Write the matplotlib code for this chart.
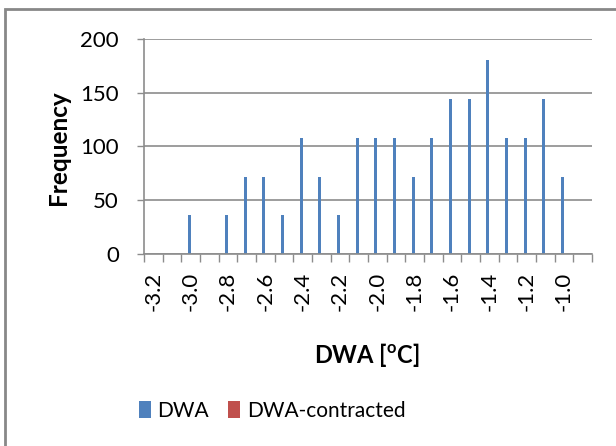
import matplotlib
matplotlib.use("Agg")
import matplotlib.pyplot as plt
from matplotlib.patches import Rectangle
import numpy as np

plt.rcParams['font.family'] = ['Lato', 'DejaVu Sans']
plt.rcParams['mathtext.fontset'] = 'custom'
plt.rcParams['mathtext.bf'] = 'Lato:bold'
plt.rcParams['mathtext.rm'] = 'Lato'

# histogram bins (deg C) and counts
bins = [-3.2, -3.1, -3.0, -2.9, -2.8, -2.7, -2.6, -2.5, -2.4, -2.3, -2.2, -2.1,
        -2.0, -1.9, -1.8, -1.7, -1.6, -1.5, -1.4, -1.3, -1.2, -1.1, -1.0, -0.9]
dwa = [0, 0, 36, 0, 36, 72, 72, 36, 108, 72, 36, 108,
       108, 108, 72, 108, 144, 144, 180, 108, 108, 144, 72, 0]
dwa_contracted = [0] * len(bins)

blue = '#4F81BD'
red = '#C0504D'
grid_c = '#8C8C8C'

fig = plt.figure(figsize=(6.16, 4.46), dpi=100)
ax = fig.add_axes([144/616, 1 - 254/446, 448/616, 215/446])

x = np.arange(len(bins))
w = 0.16
ax.bar(x - w/2, dwa, width=w, color=blue, label='DWA', linewidth=0)
ax.bar(x + w/2, dwa_contracted, width=w, color=red, label='DWA-contracted', linewidth=0)

ax.set_xlim(-0.5, len(bins) - 0.5)
ax.set_ylim(0, 200)
ax.set_yticks([0, 50, 100, 150, 200])
ax.yaxis.grid(True, color=grid_c, linewidth=1.2)
ax.set_axisbelow(True)
ax.tick_params(axis='y', length=5, width=1, color=grid_c, pad=13, labelsize=16)

# label every other bin, tick marks on bin edges
lab_pos = x[::2]
ax.set_xticks(lab_pos)
ax.set_xticklabels(['%.1f' % bins[i] for i in lab_pos], rotation=90, va='top')
ax.set_xticks(np.arange(-0.5, len(bins)), minor=True)
ax.tick_params(axis='x', which='major', length=0, pad=13, labelsize=16)
ax.tick_params(axis='x', which='minor', length=6, width=1, color=grid_c)

for s in ['top', 'right']:
    ax.spines[s].set_visible(False)
for s in ['left', 'bottom']:
    ax.spines[s].set_color(grid_c)
    ax.spines[s].set_linewidth(1.2)

fig.text(58/616, 1 - 148/446, 'Frequency', rotation=90, ha='center', va='center',
         fontsize=17.5, fontweight='bold')
fig.text(367/616, 1 - 355/446, r'DWA [$^\mathbf{o}$C]', ha='center', va='center',
         fontsize=17, fontweight='bold')

fig.legend(loc='center', bbox_to_anchor=(272/616, 1 - 411/446), ncol=2,
           frameon=False, fontsize=15, handlelength=0.6, handleheight=0.9,
           handletextpad=0.3, columnspacing=0.9)

# chart border
fig.patches.append(Rectangle((5/616, -0.1), 2, 1.1 - 9/446, transform=fig.transFigure,
                             fill=False, edgecolor='#888888', linewidth=2))

fig.savefig('out.png', dpi=100, facecolor='white')
